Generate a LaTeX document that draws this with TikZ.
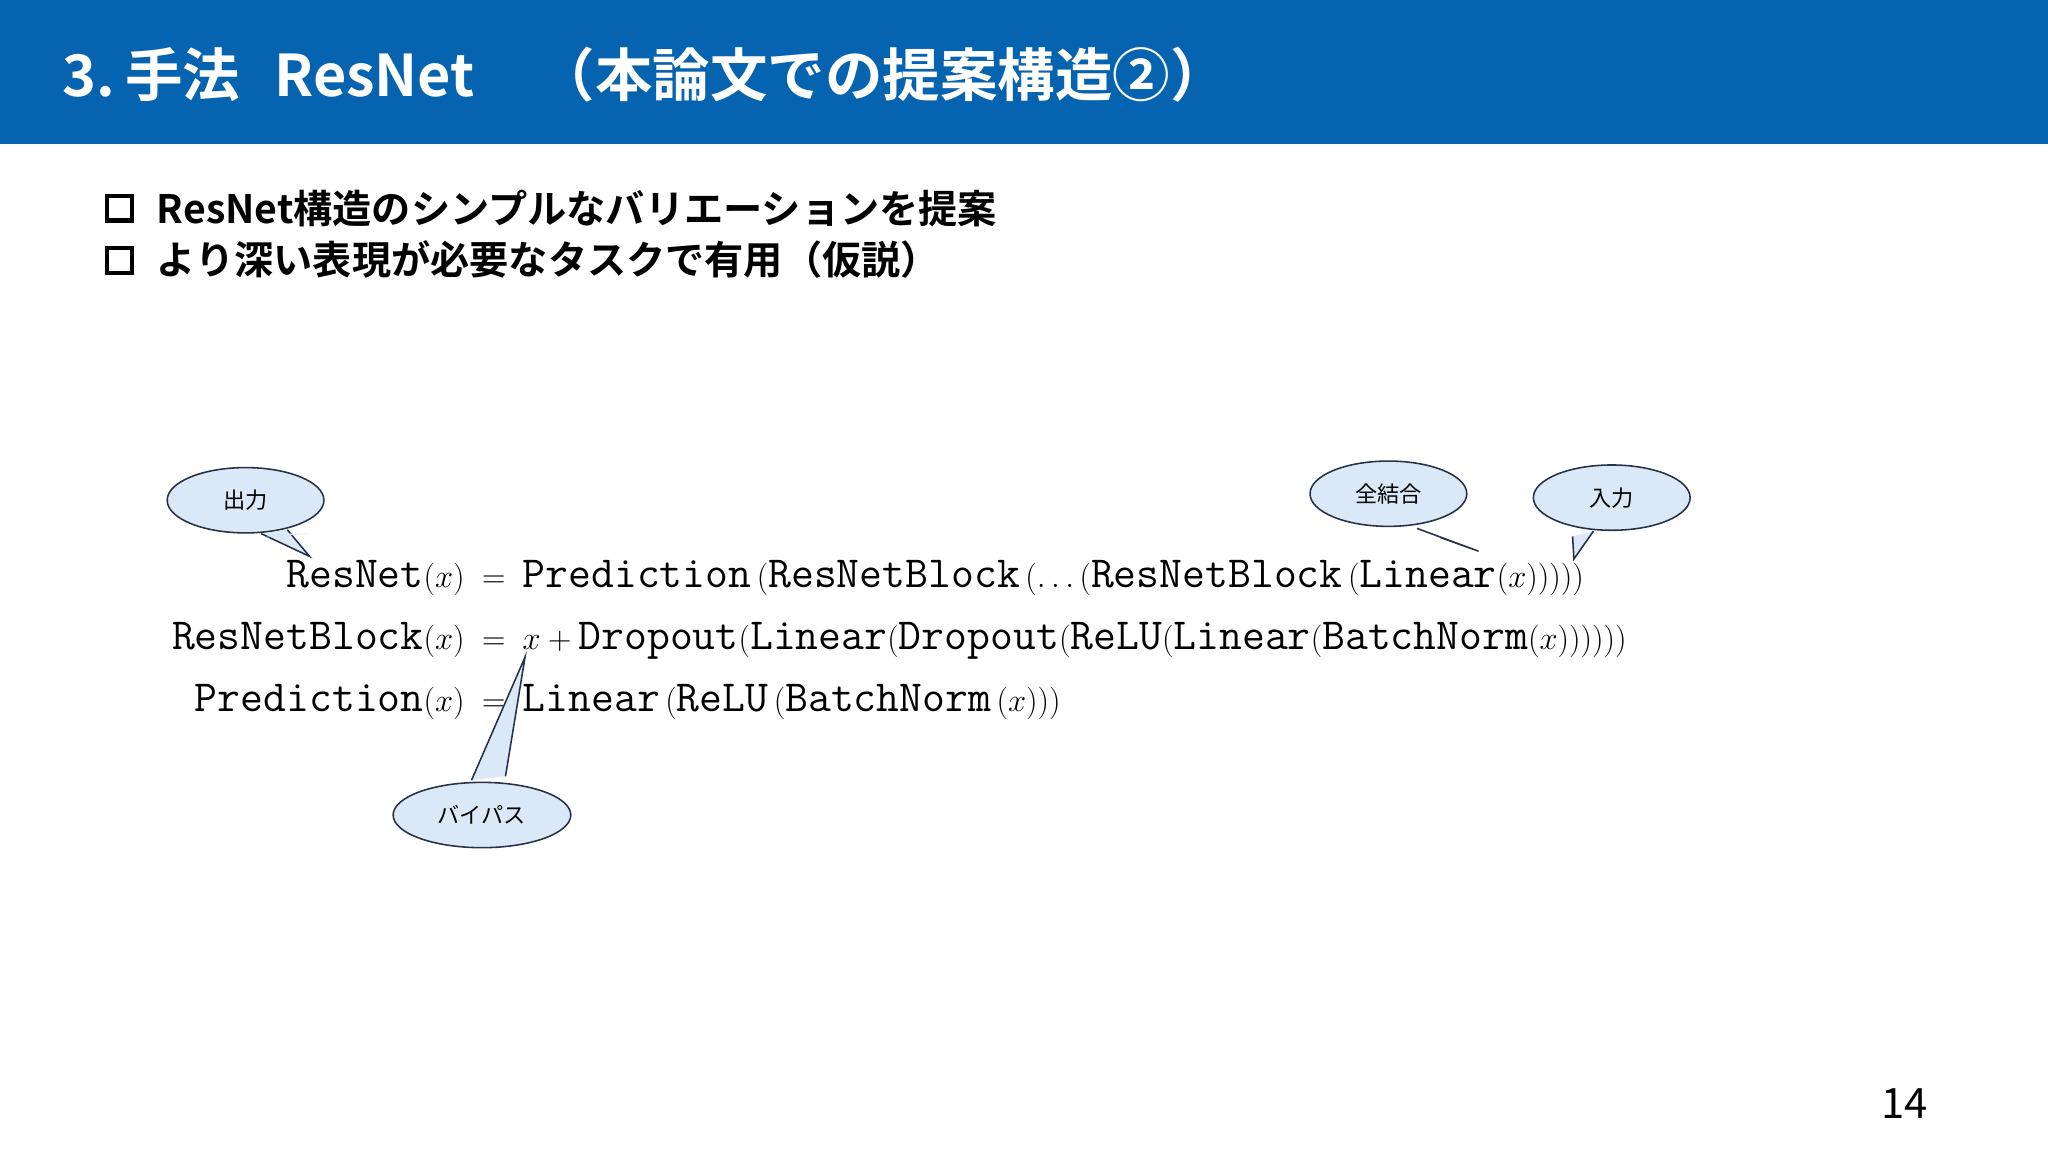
\documentclass[tikz,border=0pt]{standalone}
\usepackage{fontspec}
\newfontfamily\jp{Noto Sans CJK JP}
\newfontfamily\jpb{Noto Sans CJK JP Bold}
\usetikzlibrary{shapes.geometric}
\definecolor{barblue}{RGB}{5,99,176}
\definecolor{callfill}{RGB}{218,232,248}
\definecolor{callline}{RGB}{40,50,70}
\tikzset{
  call/.style={ellipse,draw=callline,fill=callfill,line width=1.2pt,minimum width=120pt,minimum height=50pt,inner sep=0pt,font=\jp\fontsize{17}{17}\selectfont},
  eq/.style={inner sep=0pt,font=\ttfamily\fontsize{34}{34}\selectfont},
  bul/.style={anchor=west,inner sep=0pt,font=\jpb\fontsize{30}{30}\selectfont}
}
\begin{document}
\begin{tikzpicture}[x=1pt,y=-1pt]
\useasboundingbox (0,0) rectangle (1568,882);
\fill[white] (0,0) rectangle (1568,882);
\fill[barblue] (0,0) rectangle (1568,110);
\node[anchor=west,inner sep=0pt,text=white,font=\jpb\fontsize{44}{44}\selectfont] (title) at (48,57) {3.\,手法\hspace{0.6em}ResNet\hspace{1.1em}（本論文での提案構造②）};
\draw[line width=3.5pt] (82,150) rectangle (101,169);
\draw[line width=3.5pt] (82,190) rectangle (101,209);
\node[bul] (b1) at (120,160) {ResNet構造のシンプルなバリエーションを提案};
\node[bul] (b2) at (120,199) {より深い表現が必要なタスクで有用（仮説）};
% equations
\node[eq,anchor=base east] (l1) at (356,450) {ResNet$(x)$};
\node[eq,anchor=base] (e1) at (378,450) {$=$};
\node[eq,anchor=base west] (r1) at (400,450) {Prediction$\,($ResNetBlock$\,(\ldots($ResNetBlock$\,($Linear$(x)))))$};
\node[eq,anchor=base east] (l2) at (356,497) {ResNetBlock$(x)$};
\node[eq,anchor=base] (e2) at (378,497) {$=$};
\node[eq,anchor=base west] (r2) at (400,497) {$x+{}$Dropout$($Linear$($Dropout$($ReLU$($Linear$($BatchNorm$(x))))))$};
\node[eq,anchor=base east] (l3) at (356,545) {Prediction$(x)$};
\node[eq,anchor=base] (e3) at (378,545) {$=$};
\node[eq,anchor=base west] (r3) at (400,545) {Linear$\,($ReLU$\,($BatchNorm$\,(x)))$};
% callouts
\node[call] (c1) at (188,383) {出力};
\node[call] (c2) at (1063,378) {全結合};
\node[call] (c3) at (1234,381) {入力};
\node[call,minimum width=136pt] (c4) at (369,624) {バイパス};
\coordinate (t1) at (237,426);
\coordinate (t2) at (1132,422);
\coordinate (t3) at (1205,428);
\coordinate (t4) at (402,503);
\filldraw[fill=callfill,draw=callline,line width=1.2pt,line join=miter] ([xshift=12pt]c1.south) -- (t1) -- ([xshift=32pt,yshift=3pt]c1.south);
\fill[callfill] ([xshift=13pt,yshift=-3pt]c1.south) -- ([xshift=31pt,yshift=0pt]c1.south) -- (t1|-c1.south) -- cycle;
\filldraw[fill=callfill,draw=callline,line width=1.2pt] ([xshift=22pt,yshift=-1pt]c2.south) -- (t2) -- ([xshift=40pt,yshift=-8pt]c2.south);
\filldraw[fill=callfill,draw=callline,line width=1.2pt] ([xshift=-30pt,yshift=-4pt]c3.south) -- (t3) -- ([xshift=-14pt,yshift=0pt]c3.south);
\filldraw[fill=callfill,draw=callline,line width=1.2pt] ([xshift=-8pt,yshift=1pt]c4.north) -- (t4) -- ([xshift=18pt,yshift=4pt]c4.north);
\node[anchor=center,inner sep=0pt,font=\jp\fontsize{32}{32}\selectfont] (pg) at (1458,845) {14};
\end{tikzpicture}
\end{document}
